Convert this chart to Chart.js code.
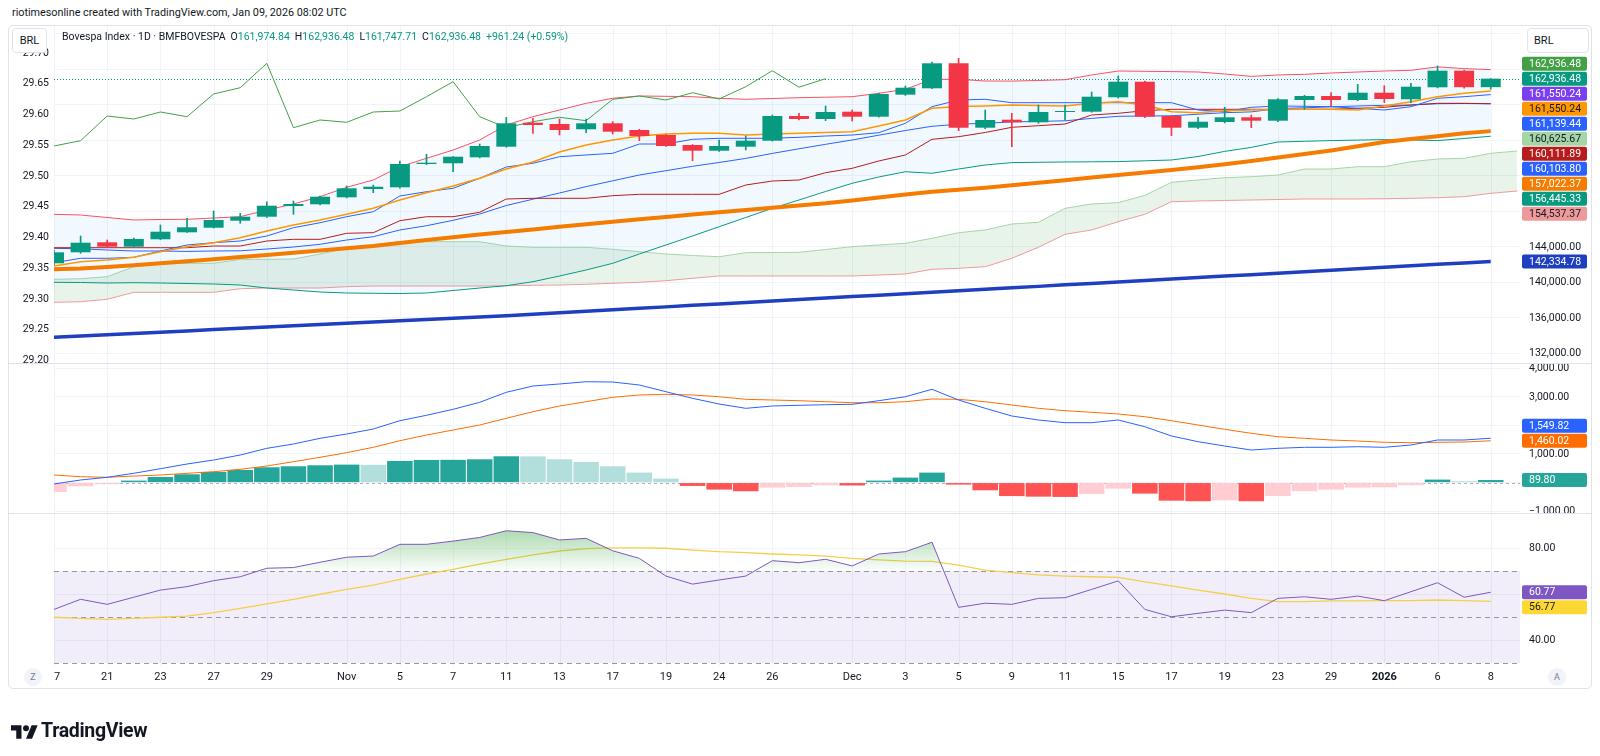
<!DOCTYPE html>
<html>
<head>
<meta charset="utf-8">
<title>Bovespa Index · 1D · BMFBOVESPA</title>
<script src="https://cdn.jsdelivr.net/npm/chart.js@4.4.1/dist/chart.umd.min.js"></script>
<style>
  body { margin: 0; width: 1600px; height: 756px; background: #fff; position: relative; overflow: hidden;
         font-family: Roboto, "Noto Sans", sans-serif; color: #131722; }
  #header { position: absolute; left: 12px; top: 6px; font-size: 10.8px; }
  #frame { position: absolute; left: 8px; top: 25px; width: 1582px; height: 662px; border: 1px solid #e0e3eb; border-radius: 5px; }
  canvas { position: absolute; left: 8px; }
  .sep { position: absolute; left: 9px; width: 1582px; height: 1px; background: #e0e3eb; }
  .brl { position: absolute; top: 28px; height: 23px; border: 1px solid #e0e3eb; border-radius: 4px; background: #fff;
         font-size: 11px; line-height: 23px; box-sizing: content-box; }
  #legend { position: absolute; left: 62px; top: 30px; font-size: 10.5px; white-space: nowrap; }
  #legend .v { color: #089981; }
  #legend b { font-weight: 400; margin-left: 5px; }
  .round { position: absolute; top: 668px; width: 18px; height: 18px; border-radius: 9px; background: #f0f3fa;
           color: #787b86; font-size: 9px; text-align: center; line-height: 18px; }
  #logo { position: absolute; left: 11px; top: 719px; display: flex; align-items: center; }
  #logo span { font-weight: 700; font-size: 19.5px; margin-left: 3px; letter-spacing: -0.3px; }
</style>
</head>
<body>
<div id="header">riotimesonline created with TradingView.com, Jan 09, 2026 08:02 UTC</div>
<div id="frame"></div>
<canvas id="mainChart" width="1584" height="337" style="top:26px"></canvas>
<canvas id="macdChart" width="1584" height="150" style="top:363px"></canvas>
<canvas id="rsiChart" width="1584" height="175" style="top:513px"></canvas>
<div class="sep" style="top:363px"></div>
<div class="sep" style="top:513px"></div>
<div class="brl" style="left:12px;width:33px;text-align:center">BRL</div>
<div class="brl" style="left:1527px;width:54px;padding-left:6px">BRL</div>
<div id="legend">Bovespa Index · 1D · BMFBOVESPA<b>O<span class="v">161,974.84</span></b><b>H<span class="v">162,936.48</span></b><b>L<span class="v">161,747.71</span></b><b>C<span class="v">162,936.48</span></b><b class="v">+961.24 (+0.59%)</b></div>
<div class="round" style="left:24px">Z</div>
<div class="round" style="left:1548px">A</div>
<div id="logo">
  <svg width="27" height="17" viewBox="0 0 36 22"><path d="M14 22H7V11H0V4h14v18z" fill="#131722"/><circle cx="20" cy="8" r="4" fill="#131722"/><path d="M28 22h-8l7.5-18h8z" fill="#131722"/></svg>
  <span>TradingView</span>
</div>
<script>
// daily candles, Oct 17 2025 .. Jan 8 2026
const opens  = [142130, 143369, 144496, 144000, 144834, 145622, 146140, 146930, 147380, 148580, 148778, 149566, 150500, 150693, 153318, 153400, 154073, 155268, 157972, 157826, 157230, 157905, 157150, 156586, 155460, 154817, 155268, 155944, 158727, 158389, 159212, 158649, 161132, 161848, 164665, 157409, 158311, 158018, 159178, 159212, 160834, 162592, 158727, 157409, 158051, 158581, 158198, 160530, 160981, 160530, 161353, 160609, 161961, 163832, 161974.84];
const highs  = [143600, 145206, 144755, 144980, 146445, 147200, 148023, 147764, 149070, 149149, 149700, 150840, 150950, 153657, 154412, 154141, 155572, 158580, 158468, 158390, 158390, 158085, 157229, 156650, 155500, 156023, 156474, 158840, 159030, 159854, 159403, 161319, 162108, 164812, 165229, 159403, 159032, 159967, 159967, 161432, 163234, 162650, 158780, 158581, 159707, 158840, 160700, 161050, 161353, 162299, 162142, 162412, 164362, 163900, 162936.48];
const lows   = [141950, 143256, 143932, 143950, 144800, 145600, 146100, 146637, 147300, 147650, 148700, 149500, 150085, 150600, 153250, 152451, 154000, 155200, 156778, 156586, 156846, 156698, 155944, 155300, 153690, 154750, 154900, 155900, 158277, 158200, 158164, 158600, 161050, 161800, 157071, 157300, 155268, 157900, 158277, 159150, 160750, 158550, 156507, 157300, 157950, 157409, 158100, 159482, 159854, 160450, 160226, 160226, 161900, 161860, 161747.71];
const closes = [143369, 144451, 144000, 144868, 145690, 146186, 147009, 147380, 148620, 148811, 149634, 150580, 150760, 153318, 153465, 154141, 155347, 157905, 157710, 157150, 157905, 156960, 156474, 155347, 154817, 155347, 155944, 158727, 158389, 159178, 158649, 161206, 161916, 164665, 157410, 158277, 158018, 159178, 159290, 160902, 162592, 158649, 157409, 158085, 158581, 158198, 160609, 160981, 160530, 161353, 160643, 162029, 163832, 161975, 162936.48];

// overlays
const bbUpper = [147651, 147572, 147290, 147009, 147065, 147087, 147234, 147380, 148135, 148811, 149634, 150693, 151516, 153014, 153961, 154896, 156023, 157713, 158648, 159403, 160158, 160722, 160981, 160947, 160902, 160722, 160609, 160699, 160789, 160846, 160902, 161285, 161736, 162862, 162862, 162671, 162660, 162727, 162818, 163347, 163798, 163764, 163730, 163685, 163460, 163189, 163347, 163426, 163572, 163685, 163798, 163877, 164260, 164068, 163956];
const bbBasis = [143820, 143763, 143628, 143515, 143515, 143470, 143515, 143538, 143741, 143966, 144270, 144755, 145127, 145882, 146366, 146975, 147685, 148642, 149352, 150051, 150772, 151426, 152079, 152564, 153059, 153488, 153950, 154513, 155031, 155538, 156023, 156564, 157093, 157567, 157803, 157905, 158062, 158119, 158186, 158457, 158693, 158727, 158750, 158930, 159099, 159189, 159572, 159651, 159764, 159854, 159933, 159956, 160113, 160136, 160103.80];
const bbLower = [139989, 139966, 139910, 139944, 139910, 139853, 139797, 139684, 139346, 139121, 138896, 138783, 138749, 138727, 138783, 139065, 139346, 139605, 140056, 140698, 141375, 142129, 143177, 144192, 145206, 146254, 147290, 148327, 149262, 150220, 151144, 151854, 152451, 152271, 152755, 153206, 153476, 153510, 153544, 153566, 153589, 153679, 153769, 154163, 154738, 155189, 155798, 155876, 155955, 156012, 156068, 156023, 155955, 156192, 156445.33];
const emaLine = [141825, 142310, 142501, 142806, 143437, 144000, 144451, 145014, 145769, 146445, 147009, 147651, 148327, 149262, 150085, 150840, 151707, 152755, 153544, 154670, 155460, 156023, 156473, 156699, 156778, 156778, 156586, 156699, 156778, 156868, 156958, 157600, 158276, 159595, 159797, 159854, 159966, 159910, 159854, 160158, 160339, 159966, 159212, 159099, 159324, 159403, 159459, 159482, 159482, 159403, 159854, 160339, 160902, 161285, 161550.24];
const tenkan  = [142197, 142693, 142693, 142806, 143515, 144192, 144451, 144642, 145206, 146141, 146704, 147380, 147944, 149713, 150197, 150581, 151707, 152980, 153398, 154141, 154333, 154524, 155572, 155572, 156102, 156215, 156215, 156215, 156327, 156473, 156586, 156846, 157905, 159775, 160530, 160609, 160226, 160226, 160226, 160226, 160226, 160226, 160226, 159403, 159212, 159707, 159854, 159820, 159775, 159595, 159403, 159775, 160722, 160902, 161139.44];
const kijun   = [143887, 143887, 143887, 143887, 143887, 143887, 144079, 144079, 144642, 144834, 144834, 145510, 145578, 146930, 147380, 147380, 147876, 149375, 149454, 149454, 149454, 149747, 149904, 149904, 149904, 149904, 150952, 151403, 151516, 152338, 152834, 153657, 154333, 156102, 156395, 156868, 157454, 157634, 157825, 158840, 159031, 159324, 159482, 159482, 159482, 159482, 159482, 159482, 159482, 159595, 159707, 159966, 160158, 160158, 160111.89];
const sma50   = [141453, 141544, 141713, 141904, 142130, 142366, 142591, 142839, 143065, 143313, 143572, 143820, 144079, 144417, 144755, 145059, 145375, 145656, 145938, 146242, 146535, 146817, 147087, 147347, 147617, 147876, 148135, 148383, 148642, 148890, 149206, 149544, 149871, 150197, 150412, 150648, 150930, 151212, 151493, 151786, 152068, 152361, 152643, 152958, 153285, 153657, 154051, 154445, 154851, 155324, 155798, 156124, 156451, 156778, 157022.37];
const sma200  = [133790, 133930, 134080, 134220, 134370, 134510, 134660, 134800, 134940, 135080, 135230, 135370, 135510, 135650, 135800, 135940, 136080, 136230, 136400, 136560, 136730, 136890, 137060, 137220, 137390, 137550, 137720, 137880, 138050, 138210, 138380, 138540, 138710, 138870, 139040, 139200, 139370, 139530, 139700, 139860, 140030, 140190, 140360, 140520, 140690, 140850, 141020, 141180, 141350, 141510, 141680, 141840, 142010, 142170, 142334.78];
// ichimoku cloud, one bar past the last candle
const spanA = [140327, 140394, 140620, 141746, 142051, 142130, 142130, 142580, 142580, 142614, 143177, 143820, 144192, 144563, 144563, 144563, 144563, 144079, 143932, 143932, 143932, 143707, 143437, 143177, 143008, 142873, 143324, 143346, 143369, 143684, 144000, 144192, 144383, 144947, 145578, 145882, 146558, 146749, 148327, 148811, 148958, 149792, 151257, 151516, 151775, 151888, 152079, 152755, 152755, 153014, 153014, 153578, 153882, 153961, 154524, 154783];
const spanB = [137735, 137803, 138073, 138862, 138862, 138862, 138862, 139267, 139346, 139346, 139346, 139493, 139572, 139572, 139572, 139572, 139572, 139605, 139651, 139684, 139763, 139876, 139989, 140169, 140439, 140698, 140698, 140698, 140698, 140698, 140698, 140811, 140924, 141453, 141566, 141746, 142693, 143932, 145397, 145882, 146817, 147651, 149071, 149149, 149206, 149262, 149318, 149375, 149375, 149375, 149409, 149454, 149521, 149634, 150017, 150276];
const laggingShift = 25;

// MACD pane
const macdLine = [-49, 91, 185, 325, 485, 649, 789, 963, 1197, 1347, 1546, 1696, 1871, 2161, 2349, 2558, 2803, 3152, 3372, 3442, 3522, 3511, 3407, 3173, 2942, 2743, 2593, 2674, 2698, 2719, 2733, 2859, 2998, 3256, 2883, 2593, 2325, 2185, 2091, 2091, 2185, 1951, 1627, 1428, 1277, 1138, 1197, 1232, 1232, 1253, 1232, 1312, 1487, 1487, 1549.82];
const signalLine = [265, 206, 185, 230, 265, 325, 380, 464, 579, 730, 883, 1044, 1232, 1462, 1661, 1836, 2010, 2244, 2475, 2674, 2824, 2977, 3058, 3082, 3058, 2998, 2907, 2883, 2859, 2824, 2789, 2789, 2824, 2918, 2907, 2824, 2709, 2593, 2510, 2454, 2394, 2300, 2161, 2010, 1860, 1721, 1602, 1546, 1487, 1452, 1407, 1393, 1407, 1417, 1460.02];
const histogram = [-325, -128, -58, 70, 198, 291, 372, 442, 535, 570, 605, 628, 619, 756, 791, 795, 814, 919, 915, 814, 721, 570, 349, 140, -116, -244, -302, -175, -151, -93, -100, 70, 175, 349, -70, -268, -470, -490, -500, -400, -209, -384, -630, -650, -620, -650, -470, -302, -244, -175, -165, -93, 105, 47, 89.80];

// RSI pane
const rsi   = [53.3, 57.7, 55.5, 58.6, 61.7, 63.2, 65.8, 67.5, 71.2, 71.5, 73.8, 76, 76.5, 81.6, 81.6, 83, 84.6, 87.5, 86.7, 83.5, 84.2, 78.8, 75.5, 67.8, 64.3, 66.1, 67.8, 74.5, 73.6, 75.1, 72.2, 77.4, 78.4, 82.5, 54.2, 56, 55.5, 58.1, 58.4, 62, 65.7, 53.3, 50.1, 51.6, 53, 51.9, 58.1, 58.8, 57.7, 59.1, 57.1, 61, 64.9, 58.6, 60.77];
const rsiMa = [49.9, 49.4, 49, 49.4, 49.9, 50.4, 51.9, 53.8, 55.7, 57.7, 59.9, 62, 63.9, 66.4, 68.7, 70.7, 73, 75.1, 77, 78.7, 79.7, 80.1, 80.1, 79.9, 79.1, 78.4, 78, 77.4, 77, 76.5, 75.5, 74.8, 74.3, 74.2, 72.6, 70.4, 69.3, 68.3, 67.8, 67.5, 67.2, 65.3, 63.5, 61.7, 60, 58.1, 56.7, 56.7, 57, 57, 57.1, 57.1, 57.4, 57.1, 56.77];

// axes
const xTickBars   = [0, 2, 4, 6, 8, 11, 13, 15, 17, 19, 21, 23, 25, 27, 30, 32, 34, 36, 38, 40, 42, 44, 46, 48, 50, 52, 54];
const xTickLabels = ['17', '21', '23', '27', '29', 'Nov', '5', '7', '11', '13', '17', '19', '24', '26', 'Dec', '3', '5', '9', '11', '15', '17', '19', '23', '29', '2026', '6', '8'];
const priceTicks = [132000, 136000, 140000, 144000, 148000, 152000, 156000, 160000, 164000, 168000];
const leftTicks  = [29.20, 29.25, 29.30, 29.35, 29.40, 29.45, 29.50, 29.55, 29.60, 29.65, 29.70];
const macdTicks  = [-1000, 0, 1000, 2000, 3000, 4000];
const rsiTicks   = [40, 60, 80];

// last-value tags
const mainTagValues = [162936.48, 162936.48, 161550.24, 161550.24, 161139.44, 160625.67, 160111.89, 160103.80, 157022.37, 156445.33, 154537.37, 142334.78];
const mainTagColors = ['#43a047', '#089981', '#7b3ff2', '#ff9800', '#2962ff', '#a5d6a7', '#b71c1c', '#2962ff', '#f57c00', '#089981', '#ef9a9a', '#1e3fbf'];
const mainTagText   = ['#fff', '#fff', '#fff', '#131722', '#fff', '#131722', '#fff', '#fff', '#fff', '#fff', '#131722', '#fff'];
const macdTagValues = [1549.82, 1460.02, 89.80];
const macdTagColors = ['#2962ff', '#ff6d00', '#26a69a'];
const rsiTagValues  = [60.77, 56.77];
const rsiTagColors  = ['#7e57c2', '#fdd835'];
const rsiTagText    = ['#fff', '#131722'];

const UP = '#089981', DOWN = '#f23645';
const fmt = v => v.toLocaleString('en-US', { minimumFractionDigits: 2, maximumFractionDigits: 2 }).replace('-', '\u2212');
const pts = (arr, shift = 0) => arr.map((v, i) => ({ x: i + shift, y: v }));

function roundRect(ctx, x, y, w, h, r) {
  ctx.beginPath();
  ctx.moveTo(x + r, y);
  ctx.arcTo(x + w, y, x + w, y + h, r);
  ctx.arcTo(x + w, y + h, x, y + h, r);
  ctx.arcTo(x, y + h, x, y, r);
  ctx.arcTo(x, y, x + w, y, r);
  ctx.closePath();
  ctx.fill();
}

function makeDecor(cfg) {
  return {
    id: 'decor',
    beforeDatasetsDraw(chart) {
      const { ctx, chartArea: a, scales: { x, y } } = chart;
      ctx.save();
      ctx.strokeStyle = '#f0f3fa';
      ctx.lineWidth = 1;
      xTickBars.forEach(b => {
        const px = Math.round(x.getPixelForValue(b)) + 0.5;
        ctx.beginPath(); ctx.moveTo(px, a.top); ctx.lineTo(px, a.bottom); ctx.stroke();
      });
      if (cfg.band) {
        const top = y.getPixelForValue(cfg.band[1]), bot = y.getPixelForValue(cfg.band[0]);
        ctx.fillStyle = 'rgba(126,87,194,0.1)';
        ctx.fillRect(a.left, top, a.right - a.left, bot - top);
      }
      (cfg.dashed || []).forEach(v => {
        const py = Math.round(y.getPixelForValue(v)) + 0.5;
        ctx.strokeStyle = cfg.dashColor;
        ctx.setLineDash(cfg.dash);
        ctx.beginPath(); ctx.moveTo(a.left, py); ctx.lineTo(a.right, py); ctx.stroke();
      });
      if (cfg.priceLine != null) {
        const py = Math.round(y.getPixelForValue(cfg.priceLine)) + 0.5;
        ctx.strokeStyle = UP;
        ctx.setLineDash([1, 2]);
        ctx.beginPath(); ctx.moveTo(a.left, py); ctx.lineTo(a.right, py); ctx.stroke();
      }
      ctx.restore();
    },
    afterDraw(chart) {
      const { ctx, chartArea: a, scales } = chart;
      const y = scales.y;
      ctx.save();
      ctx.font = '10.5px Roboto';
      ctx.textBaseline = 'middle';
      ctx.textAlign = 'left';
      const H = 15;
      const pos = cfg.tags.map(t => y.getPixelForValue(t.value));
      for (let i = cfg.anchor - 1; i >= 0; i--) pos[i] = Math.min(pos[i], pos[i + 1] - H);
      for (let i = cfg.anchor + 1; i < pos.length; i++) pos[i] = Math.max(pos[i], pos[i - 1] + H);
      ctx.fillStyle = '#131722';
      cfg.ticks.forEach(v => {
        const py = y.getPixelForValue(v);
        if (pos.some(p => Math.abs(p - py) < 13)) return;
        ctx.fillText(fmt(v), a.right + 9, py + 0.5);
      });
      cfg.tags.forEach((t, i) => {
        ctx.fillStyle = t.bg;
        roundRect(ctx, a.right + 2, pos[i] - 7, 65, 14, 2);
        ctx.fillStyle = t.fg;
        ctx.fillText(fmt(t.value), a.right + 9, pos[i] + 0.5);
      });
      if (cfg.left) {
        ctx.fillStyle = '#131722';
        ctx.textAlign = 'right';
        leftTicks.forEach(v => ctx.fillText(v.toFixed(2), a.left - 5, scales.yL.getPixelForValue(v) + 0.5));
      }
      if (cfg.xLabels) {
        ctx.beginPath();
        ctx.rect(a.left, a.bottom, a.right - a.left, chart.height - a.bottom);
        ctx.clip();
        ctx.textAlign = 'center';
        ctx.fillStyle = '#131722';
        xTickBars.forEach((b, i) => {
          ctx.font = (xTickLabels[i] === '2026' ? 'bold ' : '') + '11px Roboto';
          ctx.fillText(xTickLabels[i], scales.x.getPixelForValue(b), a.bottom + 11);
        });
      }
      ctx.restore();
    }
  };
}

const xScale = { type: 'linear', min: 0, max: 55.1, display: false, offset: false };
const rightAxis = (min, max, ticks) => ({
  position: 'right', min, max,
  afterFit: s => { s.width = 72; },
  afterBuildTicks: s => { s.ticks = ticks.map(v => ({ value: v })); },
  ticks: { display: false },
  grid: { color: '#f0f3fa', drawTicks: false },
  border: { display: false }
});
const baseOptions = {
  responsive: false, animation: false, devicePixelRatio: 1, events: [],
  plugins: { legend: { display: false }, tooltip: { enabled: false } },
  datasets: { line: { pointRadius: 0, borderWidth: 1, tension: 0, fill: false } }
};
const line = (data, color, order, extra = {}) => Object.assign({ type: 'line', data, borderColor: color, order }, extra);

// price pane
new Chart(document.getElementById('mainChart'), {
  type: 'bar',
  data: {
    datasets: [
      line(pts(spanA), '#a5d6a7', 20, { fill: { target: 1, above: 'rgba(67,160,71,0.12)', below: 'rgba(244,67,54,0.12)' } }),
      line(pts(spanB), '#ef9a9a', 19),
      line(pts(bbUpper), '#f7525f', 18, { fill: { target: 3, above: 'rgba(33,150,243,0.06)', below: 'rgba(33,150,243,0.06)' } }),
      line(pts(bbLower), '#089981', 17),
      line(pts(bbBasis), '#2962ff', 16),
      line(pts(sma200), '#1e3fbf', 15, { borderWidth: 3.5 }),
      line(pts(sma50), '#f57c00', 14, { borderWidth: 4 }),
      line(pts(kijun), '#b71c1c', 13),
      line(pts(tenkan), '#2962ff', 12),
      line(pts(emaLine), '#ff9800', 11, { borderWidth: 1.5 }),
      line(pts(closes.slice(laggingShift)), '#43a047', 10),
      {
        type: 'bar', order: 2, grouped: false, barThickness: 1,
        data: closes.map((c, i) => ({ x: i, y: [lows[i], highs[i]] })),
        backgroundColor: closes.map((c, i) => c >= opens[i] ? UP : DOWN)
      },
      {
        type: 'bar', order: 1, grouped: false, barPercentage: 0.75, categoryPercentage: 1, minBarLength: 1,
        data: closes.map((c, i) => ({ x: i, y: [opens[i], c] })),
        backgroundColor: closes.map((c, i) => c >= opens[i] ? UP : DOWN)
      }
    ]
  },
  options: Object.assign({}, baseOptions, {
    scales: {
      x: xScale,
      y: rightAxis(130896, 168868, priceTicks),
      yL: { position: 'left', min: 29.1951, max: 29.7432, afterFit: s => { s.width = 46; },
            ticks: { display: false }, grid: { display: false }, border: { display: false } }
    }
  }),
  plugins: [makeDecor({
    ticks: priceTicks, anchor: 1, left: true, priceLine: closes[closes.length - 1],
    tags: mainTagValues.map((v, i) => ({ value: v, bg: mainTagColors[i], fg: mainTagText[i] }))
  })]
});

// MACD pane
const histColors = histogram.map((v, i) => {
  const prev = i ? histogram[i - 1] : -Infinity;
  if (v >= 0) return v >= prev ? '#26a69a' : '#b2dfdb';
  return v > prev ? '#ffcdd2' : '#ff5252';
});
new Chart(document.getElementById('macdChart'), {
  type: 'bar',
  data: {
    datasets: [
      line(pts(macdLine), '#2962ff', 1),
      line(pts(signalLine), '#ff6d00', 2),
      { type: 'bar', order: 3, data: pts(histogram), backgroundColor: histColors, barPercentage: 0.96, categoryPercentage: 1 }
    ]
  },
  options: Object.assign({}, baseOptions, {
    layout: { padding: { left: 46 } },
    scales: { x: xScale, y: rightAxis(-1061, 4175, macdTicks) }
  }),
  plugins: [makeDecor({
    ticks: macdTicks, anchor: 1, dashed: [0], dashColor: 'rgba(120,123,134,0.6)', dash: [3, 3],
    tags: macdTagValues.map((v, i) => ({ value: v, bg: macdTagColors[i], fg: '#fff' }))
  })]
});

// RSI pane
const rsiCanvas = document.getElementById('rsiChart');
const obGrad = rsiCanvas.getContext('2d').createLinearGradient(0, 8, 0, 58);
obGrad.addColorStop(0, 'rgba(76,175,80,0.55)');
obGrad.addColorStop(1, 'rgba(76,175,80,0.02)');
new Chart(rsiCanvas, {
  type: 'line',
  data: {
    datasets: [
      line(pts(rsi), '#7e57c2', 1, { fill: { target: { value: 70 }, above: obGrad, below: 'rgba(0,0,0,0)' } }),
      line(pts(rsiMa), '#f5cf4a', 2, { borderWidth: 1.3 })
    ]
  },
  options: Object.assign({}, baseOptions, {
    layout: { padding: { left: 46, bottom: 22 } },
    scales: { x: xScale, y: rightAxis(28.70, 95.22, rsiTicks) }
  }),
  plugins: [makeDecor({
    ticks: rsiTicks, anchor: 0, band: [30, 70], dashed: [70, 50, 30], dashColor: '#9598a1', dash: [5, 4], xLabels: true,
    tags: rsiTagValues.map((v, i) => ({ value: v, bg: rsiTagColors[i], fg: rsiTagText[i] }))
  })]
});
</script>
</body>
</html>
